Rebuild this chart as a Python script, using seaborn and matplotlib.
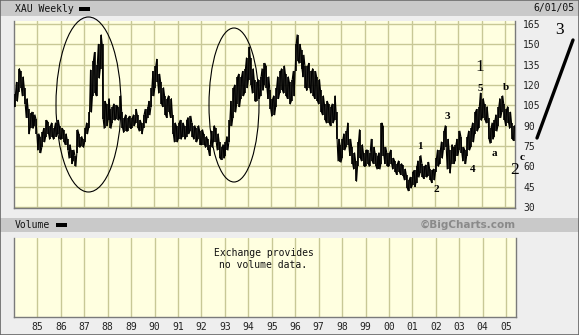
import numpy as np
import pandas as pd
import matplotlib
matplotlib.use("Agg")
import matplotlib.pyplot as plt
from matplotlib.patches import Rectangle, Ellipse
from matplotlib.lines import Line2D
import seaborn as sns

# ---------------- data (monthly low / high of weekly XAU bars, Jan 1984 .. May 2005) -------------
start_year = 1984
low = [
    104,108,115,118,112,106,96,84,88,88,90,84,          # 1984
    72,70,74,78,82,84,80,82,80,82,84,80,                # 1985
    80,78,76,72,66,62,64,60,70,74,75,74,                # 1986
    78,84,88,100,112,114,112,125,132,95,88,90,          # 1987
    94,88,92,94,95,94,96,88,85,86,86,88,                # 1988
    88,90,92,88,86,84,88,92,96,98,104,112,              # 1989
    118,122,114,106,104,98,96,100,96,84,78,78,          # 1990
    80,80,82,80,82,84,86,82,80,78,80,76,                # 1991
    76,76,74,72,68,74,78,78,72,66,65,66,                # 1992
    68,72,78,90,96,100,106,104,110,112,114,118,         # 1993
    124,120,114,108,108,110,112,116,120,118,110,102,    # 1994
    97,98,104,110,114,116,114,112,110,106,108,112,      # 1995
    130,138,136,132,126,118,116,118,114,112,110,108,    # 1996
    106,100,98,94,92,92,90,92,94,80,64,63,              # 1997
    66,72,74,76,68,62,58,49,60,66,64,60,                # 1998
    60,62,60,64,62,60,58,58,62,68,62,60,                # 1999
    60,62,58,56,54,56,54,53,50,44,42,44,                # 2000
    46,45,48,52,55,52,51,52,53,50,48,50,                # 2001
    56,60,62,66,72,74,58,55,62,62,64,68,                # 2002
    72,70,64,62,68,72,74,78,84,86,88,94,                # 2003
    96,94,92,80,77,80,82,86,90,96,100,94,               # 2004
    90,92,88,80,79,                                     # 2005
]
high = [
    113,122,132,130,126,118,110,102,99,100,98,95,
    84,82,85,88,94,93,90,92,88,92,94,90,
    88,87,84,80,76,72,72,68,87,84,82,80,
    88,92,100,131,138,144,135,150,157,150,108,106,
    110,102,104,106,105,104,112,100,96,98,96,97,
    96,98,102,98,94,92,98,102,104,108,118,130,
    134,139,128,122,118,112,110,112,110,98,92,90,
    92,94,92,90,94,96,97,92,90,88,90,86,
    87,84,82,80,76,86,90,88,84,78,74,76,
    78,82,94,108,118,120,126,128,126,130,132,140,
    148,140,132,124,122,124,126,132,136,134,126,116,
    110,112,118,126,130,132,134,128,126,122,124,130,
    150,157,150,146,142,134,134,136,130,132,130,126,
    124,116,112,106,108,106,104,106,112,100,80,76,
    80,84,86,92,80,74,70,64,78,87,76,70,
    72,72,70,80,74,70,68,70,92,90,74,70,
    70,72,66,64,62,64,62,61,58,54,50,52,
    56,57,60,64,68,62,60,61,63,58,57,58,
    66,72,72,78,86,90,80,72,76,74,76,80,
    86,82,74,72,82,86,88,92,100,102,104,114,
    110,106,104,96,88,92,94,98,104,110,112,106,
    102,104,100,92,90,
]
price_ticks = [30, 45, 60, 75, 90, 105, 120, 135, 150, 165]
year_ticks = list(range(1985, 2006))
year_labels = [f"{y % 100:02d}" for y in year_ticks]

# ---------------- figure layout (pixel based) ----------------
W, H = 579, 335
def fx(px):
    return px / W
def fy(py):
    return 1 - py / H

sns.set_style("white")
plt.rcParams["font.family"] = ["DejaVu Sans Mono", "DejaVu Sans"]

fig = plt.figure(figsize=(W / 100, H / 100), dpi=100, facecolor="#eeeeee")

# header strips
fig.patches.append(Rectangle((0, fy(16)), 1, fy(1) - fy(16), transform=fig.transFigure,
                             facecolor="#c9c9c9", edgecolor="none", zorder=0))
fig.patches.append(Rectangle((0, fy(232)), 1, fy(218) - fy(232), transform=fig.transFigure,
                             facecolor="#c9c9c9", edgecolor="none", zorder=0))
# outer frame
fig.patches.append(Rectangle((0, 0), 1, 1, transform=fig.transFigure, facecolor="none",
                             edgecolor="#666666", linewidth=1.2, zorder=10))

bg = "#ffffe0"
gridc = "#c8c896"
spinec = "#7a7a7a"

ax = fig.add_axes([fx(14), fy(208), fx(515) - fx(14), fy(21) - fy(208)])
axv = fig.add_axes([fx(14), fy(317), fx(516) - fx(14), fy(238) - fy(317)])

x0, x1 = 1984.0, 1984.0 + 501 / 23.39

# build zigzag table from monthly low/high
t = np.array([start_year + (i + 0.5) / 12 for i in range(len(low))])
rows = []
for i, (lo, hi) in enumerate(zip(low, high)):
    a, b = (lo, hi) if i % 2 == 0 else (hi, lo)
    rows.append((t[i] - 0.25 / 12, a))
    rows.append((t[i] + 0.25 / 12, b))
df = pd.DataFrame(rows, columns=["t", "v"])

ax.set_facecolor(bg)
ax.vlines(t, low, high, color="black", linewidth=1.2, zorder=3)
sns.lineplot(data=df, x="t", y="v", sort=False, estimator=None, color="black",
             linewidth=0.8, ax=ax, zorder=4)
ax.set_xlim(x0, x1)
ax.set_ylim(29.3, 167.2)
ax.set_xticks(year_ticks)
ax.set_xticklabels([])
ax.set_yticks(price_ticks)
ax.yaxis.tick_right()
ax.tick_params(axis="both", length=0)
ax.tick_params(axis="y", pad=5.8, labelsize=7, labelcolor="#222222")
ax.grid(True, color=gridc, linewidth=1)
ax.set_xlabel("")
ax.set_ylabel("")
for s in ax.spines.values():
    s.set_color(spinec)
    s.set_linewidth(1)
ax.spines["top"].set_visible(False)

# volume panel
axv.set_facecolor(bg)
axv.set_xlim(x0, x1)
axv.set_ylim(0, 1)
axv.set_xticks(year_ticks)
axv.set_xticklabels(year_labels)
axv.set_yticks([])
axv.tick_params(axis="x", length=0, pad=3.6, labelsize=7, labelcolor="#222222")
axv.grid(True, axis="x", color=gridc, linewidth=1)
for s in axv.spines.values():
    s.set_color(spinec)
    s.set_linewidth(1)
axv.spines["top"].set_visible(False)
axv.text(0.497, 0.74, "Exchange provides\nno volume data.", transform=axv.transAxes,
         ha="center", va="center", fontsize=7, color="#111111", linespacing=1.25)

# header texts
fig.text(fx(15), fy(9), "XAU Weekly", ha="left", va="center", fontsize=7, color="#111111")
fig.patches.append(Rectangle((fx(79), fy(10.5)), fx(11), fy(7.5) - fy(10.5),
                             transform=fig.transFigure, facecolor="black", edgecolor="none"))
fig.text(fx(574), fy(8), "6/01/05", ha="right", va="center", fontsize=7, color="#111111")
fig.text(fx(15), fy(225), "Volume", ha="left", va="center", fontsize=7, color="#111111")
fig.patches.append(Rectangle((fx(56), fy(226.5)), fx(11), fy(223.5) - fy(226.5),
                             transform=fig.transFigure, facecolor="black", edgecolor="none"))
fig.text(fx(516), fy(225), "\u00a9BigCharts.com", ha="right", va="center", fontsize=7.5,
         fontweight="bold", color="#8a8a8a", family=["DejaVu Sans"])

# ellipses
for (cx, cy, w, h) in [(88.5, 104.5, 65, 175), (234, 105, 50, 154)]:
    fig.patches.append(Ellipse((fx(cx), fy(cy)), w / W, h / H, transform=fig.transFigure,
                               facecolor="none", edgecolor="black", linewidth=0.8, zorder=6))

# Elliott wave labels
serif = ["Liberation Serif", "DejaVu Serif"]
small = [("1", 420, 146), ("2", 436, 189), ("3", 447, 117), ("4", 473, 169),
         ("5", 480, 88), ("a", 494, 154), ("b", 506, 87), ("c", 522, 157)]
for lab, px, py in small:
    fig.text(fx(px), fy(py), lab, ha="center", va="center", fontsize=8, fontweight="bold",
             family=serif, color="black", zorder=7)
for lab, px, py in [("1", 480, 67), ("2", 515, 170), ("3", 560, 30)]:
    fig.text(fx(px), fy(py), lab, ha="center", va="center", fontsize=12.5,
             family=serif, color="black", zorder=7)

fig.lines.append(Line2D([fx(537), fx(573)], [fy(138), fy(40)], transform=fig.transFigure,
                        color="black", linewidth=2.4, zorder=7))

fig.savefig("out.png", dpi=100, facecolor=fig.get_facecolor())
